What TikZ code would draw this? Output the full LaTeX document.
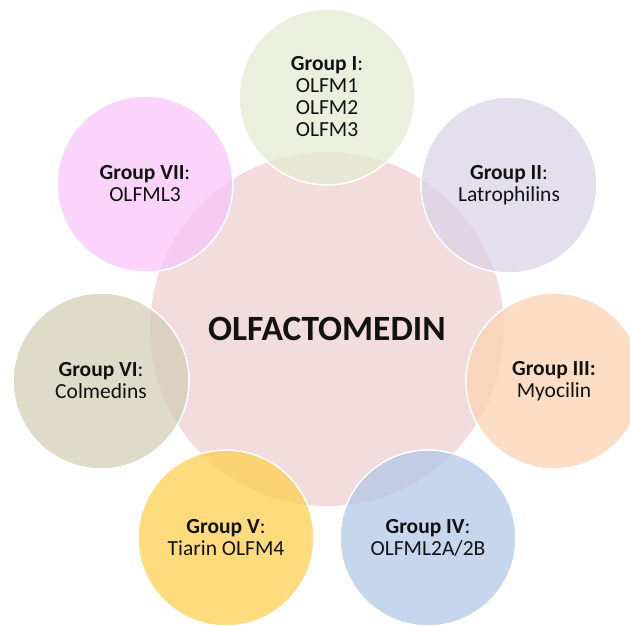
\documentclass[tikz,border=0pt]{standalone}
\usepackage{fontspec}
\setmainfont{Carlito}
\usepackage{xcolor}
\usepackage{tikz}
\usetikzlibrary{positioning}
\definecolor{corepink}{RGB}{242,220,221}
\definecolor{inkdark}{RGB}{18,18,18}
\definecolor{gone}{RGB}{228,235,210}
\definecolor{gtwo}{RGB}{219,212,230}
\definecolor{gthree}{RGB}{251,211,179}
\definecolor{gfour}{RGB}{179,200,230}
\definecolor{gfive}{RGB}{254,208,82}
\definecolor{gsix}{RGB}{211,207,182}
\definecolor{gseven}{RGB}{248,198,248}
\tikzset{
  corecirc/.style={circle, fill=corepink, minimum size=354pt, inner sep=0pt,
    text=inkdark, font=\fontsize{35.5}{40}\selectfont\bfseries},
  groupcirc/.style={circle, draw=white, line width=1.5pt, fill opacity=0.75,
    text opacity=1, minimum size=176pt, inner sep=0pt, text=inkdark,
    align=center, font=\fontsize{21.5}{22}\selectfont}
}
\begin{document}
\begin{tikzpicture}[x=1pt,y=-1pt]
  \useasboundingbox (0,0) rectangle (630,626);
  \clip (0,0) rectangle (630,626);
  % centre
  \node[corecirc] (olf) at (327,329) {OLFACTOMEDIN};
  % groups round the centre
  \node[groupcirc,fill=gone] (g1) at (327,97) {\textbf{Group I}:\\OLFM1\\OLFM2\\OLFM3};
  \node[groupcirc,fill=gtwo] (g2) at (509,185) {\textbf{Group II}:\\Latrophilins};
  \node[groupcirc,fill=gthree] (g3) at (554,381) {\textbf{Group III:}\\Myocilin};
  \node[groupcirc,fill=gfour] (g4) at (428,538) {\textbf{Group IV}:\\OLFML2A/2B};
  \node[groupcirc,fill=gfive] (g5) at (226,538) {\textbf{Group V}:\\Tiarin OLFM4};
  \node[groupcirc,fill=gsix] (g6) at (101,381) {\textbf{Group VI}:\\Colmedins};
  \node[groupcirc,fill=gseven] (g7) at (145,184) {\textbf{Group VII}:\\OLFML3};
\end{tikzpicture}
\end{document}
